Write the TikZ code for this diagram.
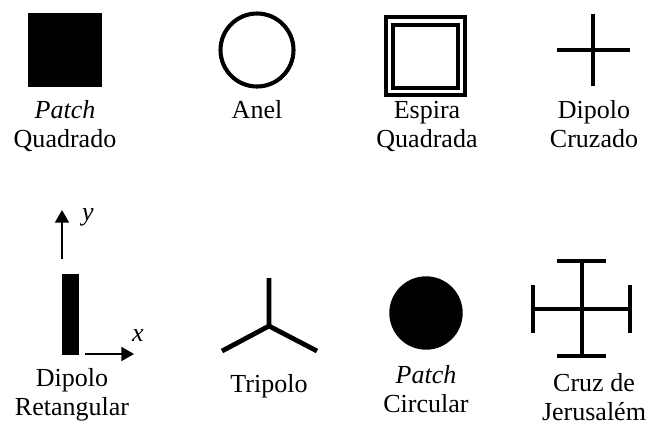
\documentclass[tikz,border=0pt]{standalone}
\usepackage{fontspec}
\setmainfont{Liberation Serif}
\usetikzlibrary{arrows.meta}

\begin{document}
\begin{tikzpicture}[
  x=0.025cm, y=-0.025cm,
  lbl/.style={font=\fontsize{18.5}{20.6}\selectfont, align=center,
              inner sep=0pt, anchor=base},
  wire/.style={line width=3.4pt},
  ring/.style={line width=2.9pt},
  axis/.style={line width=1.3pt, -{Triangle[length=9pt,width=10pt]}}
]
\useasboundingbox (0,0) rectangle (648,424);

% top row
\fill (28,13) rectangle (102,87);
\node[lbl] (sq) at (65,147) {\textit{Patch}\\Quadrado};

\draw[ring] (257,50) circle (36.5);
\node[lbl] (anel) at (257,118) {Anel};

\draw[ring] (386,17) rectangle (465,95);
\draw[ring] (393,25) rectangle (458,88);
\node[lbl] (espira) at (427,147) {Espira\\Quadrada};

\draw[wire] (593,14) -- (593,86);
\draw[wire] (557,50) -- (630,50);
\node[lbl] (cruz) at (594,147) {Dipolo\\Cruzado};

% bottom row
\fill (62,274) rectangle (79,355);
\coordinate (oy) at (62,259);
\coordinate (ty) at (62,210);
\coordinate (ox) at (85,354);
\coordinate (tx) at (134,354);
\draw[axis] (oy) -- (ty);
\draw[axis] (ox) -- (tx);
\node[lbl, anchor=center] (ly) at (88,217) {\textit{y}};
\node[lbl, anchor=center] (lx) at (138,336) {\textit{x}};
\node[lbl] (ret) at (72,415) {Dipolo\\Retangular};

\draw[wire, line join=miter] (269,278) -- (269,326) -- (222,351);
\draw[wire] (269,326) -- (317,351);
\node[lbl] (tri) at (269,392) {Tripolo};

\fill (426,313) circle (36.7);
\node[lbl] (circ) at (426,412) {\textit{Patch}\\Circular};

\draw[wire] (582,261) -- (582,356);
\draw[wire] (533,309) -- (630,309);
\draw[wire] (557,261) -- (606,261);
\draw[wire] (557,356) -- (606,356);
\draw[wire] (533,285) -- (533,333);
\draw[wire] (630,285) -- (630,333);
\node[lbl] (jer) at (594,420) {Cruz de\\Jerusalém};

\end{tikzpicture}
\end{document}
